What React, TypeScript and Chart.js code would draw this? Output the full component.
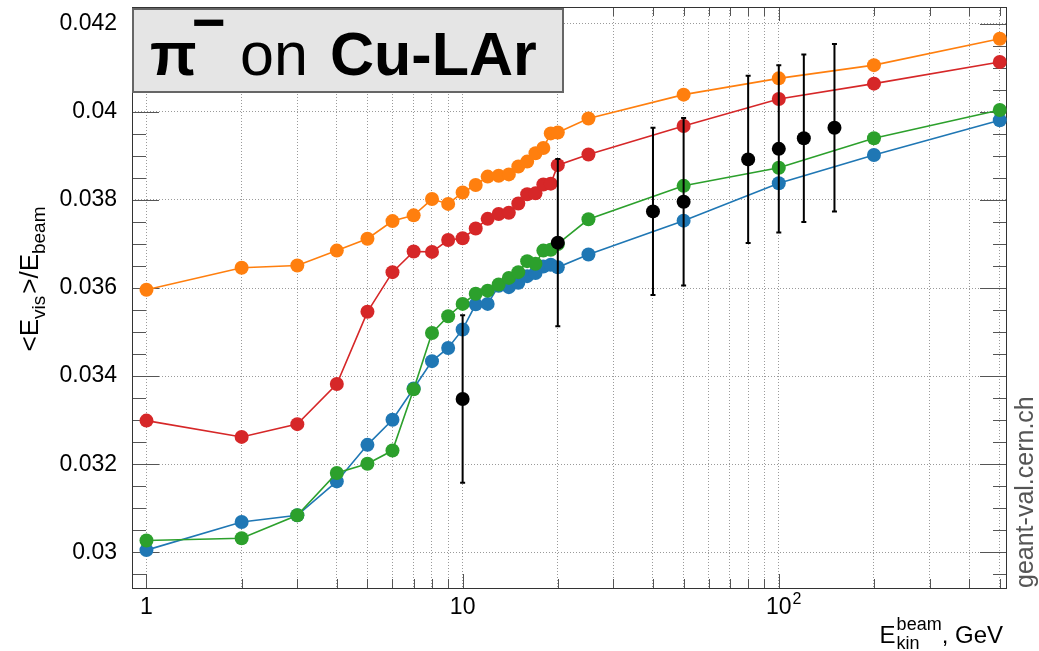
import React, { useEffect, useRef } from "react";
import { Chart, registerables } from "chart.js";

Chart.register(...registerables);

// ---------- data ----------
const energies = [1, 2, 3, 4, 5, 6, 7, 8, 9, 10, 11, 12, 13, 14, 15, 16, 17, 18, 19, 20, 25, 50, 100, 200, 500];
const orangeValues = [0.03596, 0.03646, 0.03651, 0.03685, 0.03712, 0.03752, 0.03765, 0.03802, 0.03791, 0.03817, 0.03834, 0.03853, 0.03855, 0.03858, 0.03876, 0.03887, 0.03906, 0.03918, 0.03951, 0.03953, 0.03985, 0.04039, 0.04076, 0.04106, 0.04166];
const redValues = [0.03299, 0.03262, 0.03291, 0.03382, 0.03546, 0.03636, 0.03683, 0.03682, 0.03709, 0.03713, 0.03735, 0.03757, 0.03768, 0.03771, 0.03792, 0.03813, 0.03815, 0.03835, 0.03837, 0.03879, 0.03903, 0.03968, 0.04029, 0.04064, 0.04113];
const greenValues = [0.03027, 0.03032, 0.03084, 0.0318, 0.03201, 0.03231, 0.0337, 0.03498, 0.03536, 0.03564, 0.03587, 0.03594, 0.03608, 0.03623, 0.03636, 0.03661, 0.03655, 0.03685, 0.03687, 0.037, 0.03756, 0.03832, 0.03873, 0.0394, 0.04004];
const blueValues = [0.03005, 0.03069, 0.03084, 0.03161, 0.03244, 0.03301, 0.03372, 0.03434, 0.03464, 0.03506, 0.03563, 0.03564, 0.03605, 0.03602, 0.03612, 0.03627, 0.03634, 0.03649, 0.03653, 0.03647, 0.03676, 0.03753, 0.03838, 0.03902, 0.03981];
const simErrors = [0.0001, 0.00008, 0.00008, 0.00007, 0.00007, 0.00007, 0.00007, 0.00007, 0.00007, 0.00006, 0.00006, 0.00006, 0.00006, 0.00006, 0.00006, 0.00006, 0.00006, 0.00006, 0.00006, 0.00006, 0.00005, 0.00004, 0.00004, 0.00004, 0.00004];

const expEnergies = [10, 20, 40, 50, 80, 100, 120, 150];
const expValues = [0.03348, 0.03703, 0.03774, 0.03796, 0.03892, 0.03916, 0.0394, 0.03964];
const expErrors = [0.0019, 0.0019, 0.0019, 0.0019, 0.0019, 0.0019, 0.0019, 0.0019];

const yTickValues = [0.03, 0.032, 0.034, 0.036, 0.038, 0.04, 0.042];
const yTickLabels = ["0.03", "0.032", "0.034", "0.036", "0.038", "0.04", "0.042"];
const yMinorStep = 0.0005;
const xGridValues = [1, 2, 3, 4, 5, 6, 7, 8, 9, 10, 20, 30, 40, 50, 60, 70, 80, 90, 100, 200, 300, 400, 500];
const xLabelValues = [1, 10, 100];
const xTickLabels = ["1", "10", "10"];
const xTickExponents = ["", "", "2"];

const X_MIN = 0.9;
const X_MAX = 527;
const Y_MIN = 0.02919;
const Y_MAX = 0.04238;

const FONT = "'Liberation Sans', Arial, Helvetica, sans-serif";

function pts(xs: number[], ys: number[]) {
  return xs.map((x, i) => ({ x, y: ys[i] }));
}

const errorBarPlugin = {
  id: "errorBars",
  beforeDatasetDraw(chart: any, args: any) {
    const ds = chart.data.datasets[args.index];
    if (!ds.errors) return;
    const ctx = chart.ctx;
    const y = chart.scales.y;
    ctx.save();
    ctx.strokeStyle = ds.errorColor || ds.borderColor;
    ctx.lineWidth = ds.errorWidth || 1.5;
    args.meta.data.forEach((el: any, i: number) => {
      const v = ds.data[i].y;
      const e = ds.errors[i];
      const top = y.getPixelForValue(v + e);
      const bot = y.getPixelForValue(v - e);
      const x = el.x;
      ctx.beginPath();
      ctx.moveTo(x, top);
      ctx.lineTo(x, bot);
      ctx.moveTo(x - 2.5, top);
      ctx.lineTo(x + 2.5, top);
      ctx.moveTo(x - 2.5, bot);
      ctx.lineTo(x + 2.5, bot);
      ctx.stroke();
    });
    ctx.restore();
  },
};

const framePlugin = {
  id: "rootFrame",
  beforeDatasetsDraw(chart: any) {
    const { ctx, chartArea: a, scales } = chart;
    const xs = scales.x;
    const ys = scales.y;
    ctx.save();
    ctx.strokeStyle = "#555";
    ctx.lineWidth = 1;
    ctx.beginPath();
    xGridValues.forEach((v) => {
      const px = Math.round(xs.getPixelForValue(v)) + 0.5;
      const len = xLabelValues.includes(v) ? 14 : 9;
      ctx.moveTo(px, a.bottom);
      ctx.lineTo(px, a.bottom - len);
      ctx.moveTo(px, a.top);
      ctx.lineTo(px, a.top + len);
    });
    const nMinor = Math.round((Y_MAX - Y_MIN) / yMinorStep) + 2;
    const start = Math.ceil(Y_MIN / yMinorStep) * yMinorStep;
    for (let k = 0; k < nMinor; k++) {
      const v = start + k * yMinorStep;
      if (v > Y_MAX) break;
      const isMajor = yTickValues.some((t) => Math.abs(t - v) < 1e-7);
      const len = isMajor ? 27 : 14;
      const py = Math.round(ys.getPixelForValue(v)) + 0.5;
      ctx.moveTo(a.left, py);
      ctx.lineTo(a.left + len, py);
      ctx.moveTo(a.right, py);
      ctx.lineTo(a.right - len, py);
    }
    ctx.stroke();
    ctx.strokeStyle = "#333";
    ctx.strokeRect(Math.round(a.left) + 0.5, Math.round(a.top) + 0.5, Math.round(a.right - a.left) - 1, Math.round(a.bottom - a.top));
    ctx.restore();
  },
};

type Seg = { t: string; f: string; dy: number; gap?: number };

function drawSegments(ctx: CanvasRenderingContext2D, segs: Seg[], x0: number) {
  let x = x0;
  segs.forEach((s) => {
    ctx.font = s.f;
    ctx.fillText(s.t, x, s.dy);
    x += ctx.measureText(s.t).width + (s.gap || 0);
  });
}

function segWidth(ctx: CanvasRenderingContext2D, segs: Seg[]) {
  let w = 0;
  segs.forEach((s) => {
    ctx.font = s.f;
    w += ctx.measureText(s.t).width + (s.gap || 0);
  });
  return w;
}

const textPlugin = {
  id: "rootTexts",
  afterDraw(chart: any) {
    const ctx: CanvasRenderingContext2D = chart.ctx;
    const xs = chart.scales.x;
    const a = chart.chartArea;
    ctx.save();
    ctx.textAlign = "left";
    ctx.textBaseline = "alphabetic";

    // exponents on x tick labels
    ctx.fillStyle = "#000";
    xLabelValues.forEach((v, i) => {
      const exp = xTickExponents[i];
      if (!exp) return;
      ctx.font = `23px ${FONT}`;
      const w = ctx.measureText(xTickLabels[i]).width;
      const px = xs.getPixelForValue(v);
      ctx.font = `16px ${FONT}`;
      ctx.fillText(exp, px + w / 2 + 1, a.bottom + 16);
    });

    // Title box
    ctx.fillStyle = "#e5e5e5";
    ctx.fillRect(132, 8, 431, 84);
    ctx.strokeStyle = "#666";
    ctx.lineWidth = 2;
    ctx.strokeRect(133, 9, 430, 83);
    ctx.fillStyle = "#000";
    ctx.font = `bold 61px ${FONT}`;
    ctx.fillText("\u03C0", 150, 75);
    ctx.font = `bold 58px ${FONT}`;
    ctx.fillText("\u2212", 192, 42);
    ctx.font = `61px ${FONT}`;
    ctx.fillText("on", 240, 75);
    ctx.font = `bold 61px ${FONT}`;
    ctx.fillText("Cu-LAr", 330, 75);

    // Y axis title (rotated)
    const main = `26px ${FONT}`;
    const sub = `19px ${FONT}`;
    const ySegs: Seg[] = [
      { t: "<E", f: main, dy: 0 },
      { t: "vis", f: sub, dy: 7, gap: 2 },
      { t: ">/E", f: main, dy: 0 },
      { t: "beam", f: sub, dy: 7 },
    ];
    ctx.save();
    ctx.translate(38, 279);
    ctx.rotate(-Math.PI / 2);
    const yw = segWidth(ctx, ySegs);
    drawSegments(ctx, ySegs, -yw / 2);
    ctx.restore();

    // X axis title
    const xmain = `24px ${FONT}`;
    const xsub = `18px ${FONT}`;
    ctx.font = xmain;
    const eW = ctx.measureText("E").width;
    ctx.font = xsub;
    const supW = Math.max(ctx.measureText("beam").width, ctx.measureText("kin").width);
    ctx.font = xmain;
    const gevW = ctx.measureText(", GeV").width;
    const xEnd = 1003;
    const xStart = xEnd - gevW - supW - eW - 1;
    const base = 643;
    ctx.font = xmain;
    ctx.fillText("E", xStart, base);
    ctx.font = xsub;
    ctx.fillText("beam", xStart + eW + 1, base - 13);
    ctx.fillText("kin", xStart + eW + 1, base + 6);
    ctx.font = xmain;
    ctx.fillText(", GeV", xStart + eW + 1 + supW, base);

    // watermark
    ctx.save();
    ctx.translate(1033, 588);
    ctx.rotate(-Math.PI / 2);
    ctx.fillStyle = "#555";
    ctx.font = `25px ${FONT}`;
    ctx.fillText("geant-val.cern.ch", 0, 0);
    ctx.restore();

    ctx.restore();
  },
};

function simDataset(label: string, values: number[], color: string) {
  return {
    label,
    data: pts(energies, values),
    borderColor: color,
    backgroundColor: color,
    pointBackgroundColor: color,
    pointBorderColor: color,
    pointBorderWidth: 0,
    pointRadius: 7,
    borderWidth: 1.6,
    showLine: true,
    tension: 0,
    errors: simErrors,
    errorWidth: 1.5,
    clip: false,
  };
}

function zeroPadding(s: any) {
  s.paddingTop = 0;
  s.paddingBottom = 0;
  s.paddingLeft = 0;
  s.paddingRight = 0;
}

export default function App() {
  const canvasRef = useRef<HTMLCanvasElement>(null);

  useEffect(() => {
    if (!canvasRef.current) return;
    Chart.defaults.font.family = FONT;
    Chart.defaults.font.size = 23;
    Chart.defaults.color = "#000";
    const chart = new Chart(canvasRef.current, {
      type: "line",
      data: {
        datasets: [
          {
            label: "data",
            data: pts(expEnergies, expValues),
            borderColor: "#000",
            backgroundColor: "#000",
            pointBackgroundColor: "#000",
            pointBorderWidth: 0,
            pointRadius: 7,
            showLine: false,
            errors: expErrors,
            errorColor: "#000",
            errorWidth: 2,
            clip: false,
          } as any,
          simDataset("orange", orangeValues, "#ff7f0e") as any,
          simDataset("red", redValues, "#d62728") as any,
          simDataset("green", greenValues, "#2ca02c") as any,
          simDataset("blue", blueValues, "#1f77b4") as any,
        ],
      },
      options: {
        animation: false,
        responsive: false,
        maintainAspectRatio: false,
        layout: { padding: { top: 5, right: 32, left: 0, bottom: 0 } },
        plugins: {
          legend: { display: false },
          tooltip: { enabled: false },
          title: { display: false },
        },
        scales: {
          x: {
            type: "logarithmic",
            position: "bottom",
            min: X_MIN,
            max: X_MAX,
            afterBuildTicks: (s: any) => {
              s.ticks = xGridValues.map((v) => ({ value: v }));
            },
            afterFit: (s: any) => {
              s.height = 63;
              zeroPadding(s);
            },
            ticks: {
              autoSkip: false,
              maxRotation: 0,
              minRotation: 0,
              padding: 6,
              font: { size: 23 },
              color: "#000",
              callback: (v: any) => {
                const idx = xLabelValues.findIndex((t) => Math.abs(t - Number(v)) < 1e-9);
                return idx >= 0 ? xTickLabels[idx] : "";
              },
            },
            grid: { color: "#9a9a9a", lineWidth: 1, drawTicks: false, tickLength: 0 },
            border: { display: false, dash: [1, 2] },
          },
          y: {
            type: "linear",
            position: "left",
            min: Y_MIN,
            max: Y_MAX,
            afterBuildTicks: (s: any) => {
              s.ticks = yTickValues.map((v) => ({ value: v }));
            },
            afterFit: (s: any) => {
              s.width = 132;
              zeroPadding(s);
            },
            ticks: {
              autoSkip: false,
              padding: 15,
              font: { size: 23 },
              color: "#000",
              callback: (_v: any, i: number) => yTickLabels[i],
            },
            grid: { color: "#9a9a9a", lineWidth: 1, drawTicks: false, tickLength: 0 },
            border: { display: false, dash: [1, 2] },
          },
        },
      },
      plugins: [framePlugin, errorBarPlugin, textPlugin],
    } as any);
    return () => chart.destroy();
  }, []);

  return (
    <div style={{ position: "absolute", left: 0, top: 0, width: 1039, height: 651, background: "#fff" }}>
      <canvas ref={canvasRef} width={1039} height={651} style={{ display: "block", width: 1039, height: 651 }} />
    </div>
  );
}
